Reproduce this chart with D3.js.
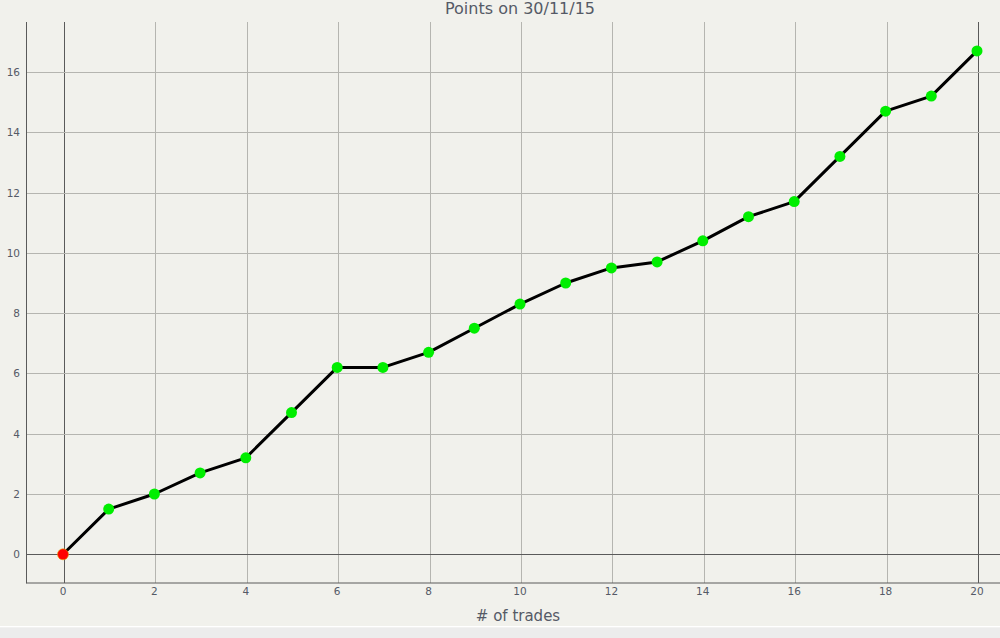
<!DOCTYPE html>
<html>
<head>
<meta charset="utf-8">
<script src="https://cdn.jsdelivr.net/npm/d3@7/dist/d3.min.js"></script>
<style>
html,body{margin:0;padding:0;background:#f1f1ec;overflow:hidden;}
text{font-family:"DejaVu Sans",Verdana,sans-serif;}
</style>
</head>
<body>
<svg id="c" width="1000" height="638"></svg>
<script>
const trades = [0,1,2,3,4,5,6,7,8,9,10,11,12,13,14,15,16,17,18,19,20];
const points = [0,1.5,2,2.7,3.2,4.7,6.2,6.2,6.7,7.5,8.3,9,9.5,9.7,10.4,11.2,11.7,13.2,14.7,15.2,16.7];
const xTicks = [0,2,4,6,8,10,12,14,16,18,20];
const yTicks = [0,2,4,6,8,10,12,14,16];
const title = "Points on 30/11/15";
const xLabel = "# of trades";

(function(){
const svg = d3.select("#c");
const W = 1000, H = 638;
const pLeft = 26.5, pRight = 1000, pTop = 22, pBottom = 583;

svg.append("rect").attr("x",0).attr("y",0).attr("width",W).attr("height",H).attr("fill","#f1f1ec");
svg.append("rect").attr("x",0).attr("y",626).attr("width",W).attr("height",1.5).attr("fill","#ffffff");
svg.append("rect").attr("x",0).attr("y",627.5).attr("width",W).attr("height",11).attr("fill","#ececec");

const x = d3.scaleLinear().domain([0,20]).range([64,978]);
const y = d3.scaleLinear().domain([0,16]).range([554.3,72]);

const g = svg.append("g");
g.selectAll(".vg").data(xTicks).join("line")
  .attr("x1",d=>Math.round(x(d))+0.5).attr("x2",d=>Math.round(x(d))+0.5)
  .attr("y1",pTop).attr("y2",pBottom)
  .attr("stroke",d=>(d===0||d===20)?"#5a5a5a":"#b5b5b0").attr("stroke-width",1);
g.selectAll(".hg").data(yTicks).join("line")
  .attr("x1",pLeft).attr("x2",pRight)
  .attr("y1",d=>Math.round(y(d))+0.5).attr("y2",d=>Math.round(y(d))+0.5)
  .attr("stroke",d=>d===0?"#5a5a5a":"#b5b5b0").attr("stroke-width",1);

svg.append("line").attr("x1",pLeft).attr("x2",pLeft).attr("y1",pTop).attr("y2",pBottom+0.5).attr("stroke","#5a5a5a");
svg.append("line").attr("x1",pLeft).attr("x2",pRight).attr("y1",pBottom).attr("y2",pBottom).attr("stroke","#5a5a5a");

svg.selectAll(".xt").data(xTicks).join("text")
  .attr("x",d=>x(d)-1).attr("y",595)
  .attr("text-anchor","middle").attr("font-size",10.5).attr("fill","#555a66")
  .text(d=>d);
svg.selectAll(".yt").data(yTicks).join("text")
  .attr("x",20).attr("y",d=>y(d)+4)
  .attr("text-anchor","end").attr("font-size",10.5).attr("fill","#555a66")
  .text(d=>d);

svg.append("text").attr("x",520).attr("y",14).attr("text-anchor","middle")
  .attr("font-size",16).attr("fill","#555a66").text(title);
svg.append("text").attr("x",518).attr("y",621).attr("text-anchor","middle")
  .attr("font-size",15).attr("fill","#555a66").text(xLabel);

const data = trades.map((t,i)=>({t, v: points[i]}));
const line = d3.line().x(d=>x(d.t)-1).y(d=>y(d.v));
svg.append("path").datum(data).attr("d",line)
  .attr("fill","none").attr("stroke","#000").attr("stroke-width",3).attr("stroke-linejoin","round");

svg.selectAll(".pt").data(data).join("circle")
  .attr("cx",d=>x(d.t)-1).attr("cy",d=>y(d.v)).attr("r",5.5)
  .attr("fill",d=>d.v===0?"#ff0000":"#00ee00")
  .attr("stroke",d=>d.v===0?"#e0a000":"none").attr("stroke-width",0.6);
})();
</script>
</body>
</html>
